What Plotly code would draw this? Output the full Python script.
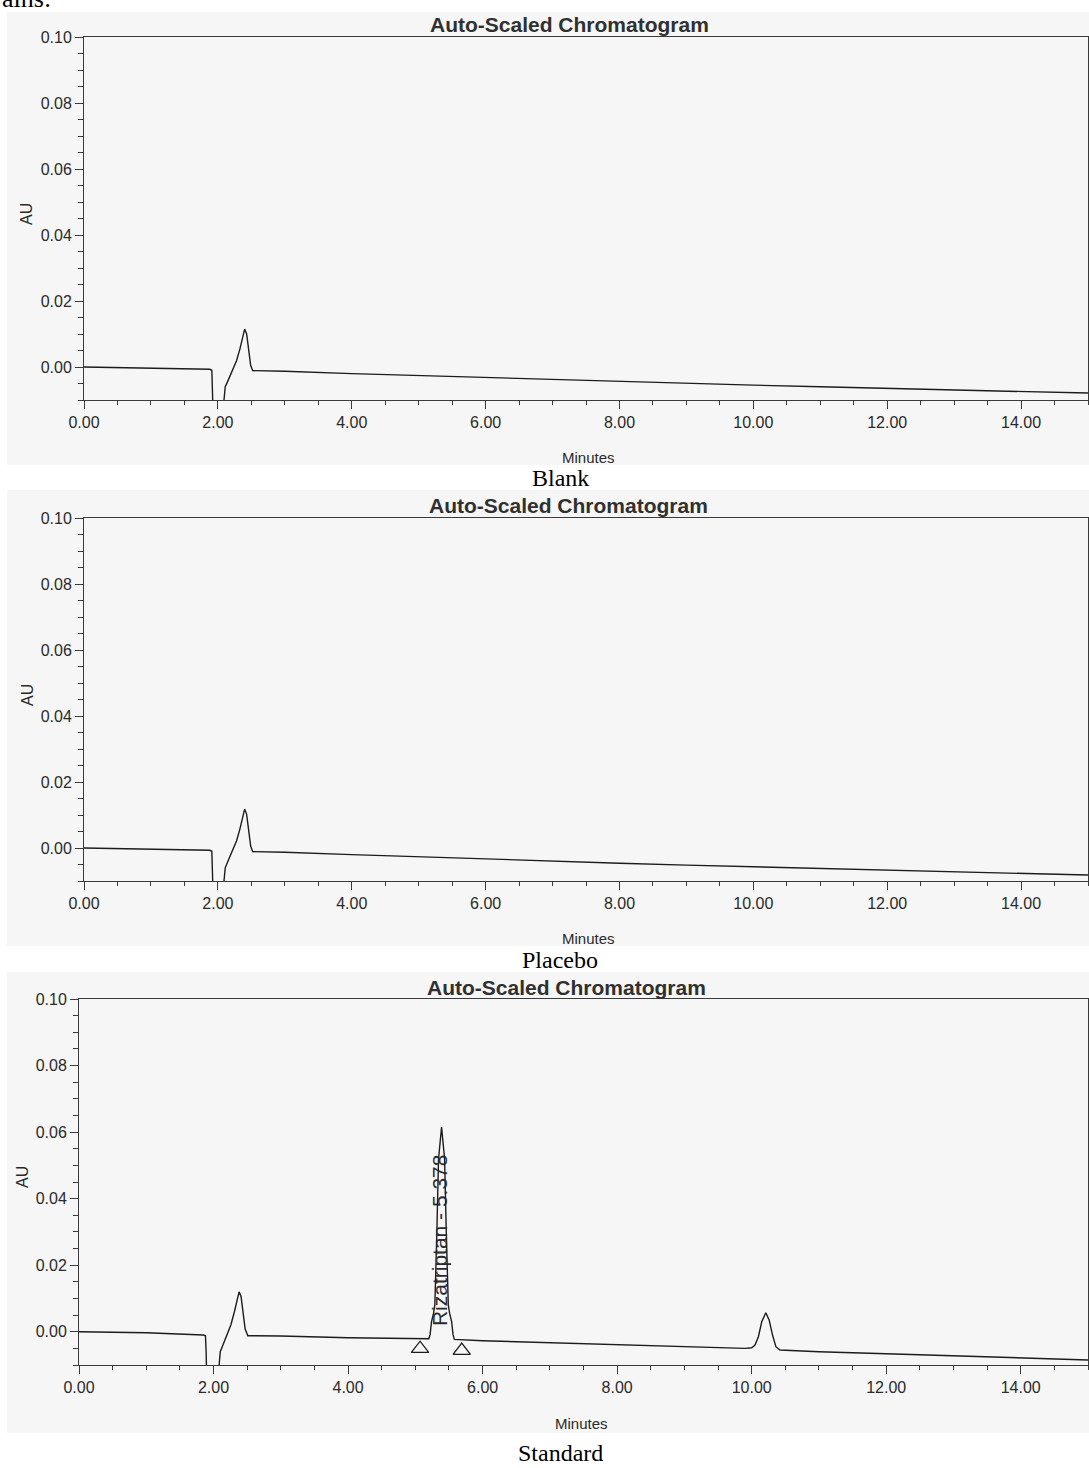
import plotly.graph_objects as go

# ---------------- data ----------------
blank_time = [0.00, 0.50, 1.00, 1.50, 1.88, 1.91, 1.92, 1.93, 2.00, 2.07, 2.09, 2.11, 2.15,
              2.22, 2.28, 2.33, 2.37, 2.40, 2.43, 2.46, 2.49, 2.52, 3.00, 4.00, 5.00, 6.00,
              7.00, 8.00, 9.00, 10.00, 11.00, 12.00, 13.00, 14.00, 15.00]
blank_au = [0.0000, -0.0002, -0.0003, -0.0005, -0.0007, -0.0010, -0.0060, -0.0150, -0.0300,
            -0.0150, -0.0100, -0.0060, -0.0042, -0.0010, 0.0020, 0.0055, 0.0095, 0.0115,
            0.0100, 0.0050, 0.0005, -0.0011, -0.0013, -0.0020, -0.0026, -0.0032, -0.0038,
            -0.0045, -0.0050, -0.0055, -0.0060, -0.0065, -0.0070, -0.0075, -0.0079]

placebo_time = [0.00, 0.50, 1.00, 1.50, 1.88, 1.91, 1.92, 1.93, 2.00, 2.07, 2.09, 2.11, 2.15,
                2.22, 2.28, 2.33, 2.37, 2.40, 2.43, 2.46, 2.49, 2.52, 3.00, 4.00, 5.00, 6.00,
                7.00, 8.00, 9.00, 10.00, 11.00, 12.00, 13.00, 14.00, 15.00]
placebo_au = [0.0000, -0.0002, -0.0003, -0.0005, -0.0007, -0.0010, -0.0060, -0.0150, -0.0300,
              -0.0150, -0.0100, -0.0060, -0.0040, -0.0008, 0.0022, 0.0058, 0.0098, 0.0118,
              0.0102, 0.0052, 0.0006, -0.0011, -0.0013, -0.0020, -0.0027, -0.0033, -0.0039,
              -0.0046, -0.0052, -0.0057, -0.0062, -0.0067, -0.0072, -0.0077, -0.0082]

standard_time = [0.00, 1.00, 1.85, 1.88, 1.89, 1.90, 2.00, 2.06, 2.08, 2.10, 2.14, 2.20, 2.26,
                 2.31, 2.35, 2.38, 2.41, 2.44, 2.47, 2.51, 3.00, 4.00, 5.00, 5.20, 5.22, 5.24,
                 5.27, 5.29, 5.32, 5.345, 5.39, 5.435, 5.46, 5.49, 5.51, 5.54, 5.56, 5.58,
                 6.00, 7.00, 8.00, 9.00, 9.90, 10.00, 10.05, 10.10, 10.15, 10.21, 10.26,
                 10.31, 10.36, 10.42, 11.00, 12.00, 13.00, 14.00, 15.00]
standard_au = [0.0000, -0.0003, -0.0010, -0.0012, -0.0060, -0.0150, -0.0300, -0.0150, -0.0100,
               -0.0060, -0.0040, -0.0010, 0.0022, 0.0060, 0.0100, 0.0120, 0.0105, 0.0055,
               0.0008, -0.0012, -0.0013, -0.0018, -0.0021, -0.0021, -0.0008, 0.0030, 0.0055,
               0.0080, 0.0300, 0.0520, 0.0615, 0.0520, 0.0300, 0.0080, 0.0055, 0.0030,
               -0.0008, -0.0023, -0.0027, -0.0033, -0.0040, -0.0046, -0.0050, -0.0048,
               -0.0040, -0.0015, 0.0030, 0.0057, 0.0035, -0.0010, -0.0045, -0.0055, -0.0060,
               -0.0066, -0.0072, -0.0078, -0.0085]

# peak integration markers (start / end) and label
marker_time = [5.07, 5.69]
marker_au = [-0.0051, -0.0057]
peak_label = "Rizatriptan - 5.378"
peak_label_time = 5.35
peak_label_au = 0.0275

panel_titles = ["Auto-Scaled Chromatogram"] * 3
captions = ["Blank", "Placebo", "Standard"]
x_tick_vals = [0, 2, 4, 6, 8, 10, 12, 14]
x_tick_text = ["0.00", "2.00", "4.00", "6.00", "8.00", "10.00", "12.00", "14.00"]
y_tick_vals = [0.00, 0.02, 0.04, 0.06, 0.08, 0.10]
y_tick_text = ["0.00", "0.02", "0.04", "0.06", "0.08", "0.10"]

# ---------------- layout helpers ----------------
W, H = 1089, 1468
def px_x(p): return p / W
def px_y(p): return 1 - p / H

LINE = "#1c1c1c"
AXC = "#3a3a3a"
SANS = "Arial, Liberation Sans, sans-serif"
SERIF = "Times New Roman, Liberation Serif, serif"

# panel geometry in pixels: (left, right, top, bottom)
panels = [(84, 1088, 37, 400), (84, 1088, 518, 881), (79, 1088, 999, 1365)]
title_pos = [(569, 24), (568, 505), (566, 987)]
minutes_pos = [(588, 457), (588, 938), (581, 1423)]
caption_pos = [(560, 478), (560, 960), (560, 1453)]
au_pos = [(27, 214), (27, 695), (22, 1177)]
scan_regions = [(7, 12, 1089, 465), (7, 490, 1089, 946), (7, 972, 1089, 1433)]

fig = go.Figure()
series = [(blank_time, blank_au), (placebo_time, placebo_au), (standard_time, standard_au)]
for i, (t, a) in enumerate(series):
    sfx = "" if i == 0 else str(i + 1)
    fig.add_trace(go.Scatter(x=t, y=a, mode="lines", xaxis="x" + sfx, yaxis="y" + sfx,
                             line=dict(color=LINE, width=1.4), showlegend=False,
                             hoverinfo="skip"))

fig.add_trace(go.Scatter(x=marker_time, y=marker_au, mode="markers", xaxis="x3", yaxis="y3",
                         marker=dict(symbol="triangle-up-open", size=15, color=LINE,
                                     line=dict(width=1.3, color=LINE)),
                         showlegend=False, hoverinfo="skip"))

layout = dict(width=W, height=H, autosize=False, margin=dict(l=0, r=0, t=0, b=0, pad=0),
              paper_bgcolor="white", plot_bgcolor="rgba(0,0,0,0)", showlegend=False)

annotations = []
shapes = []
for i, (l, r, t, b) in enumerate(panels):
    sfx = "" if i == 0 else str(i + 1)
    xa = dict(domain=[px_x(l), px_x(r)], range=[0, 15], anchor="y" + sfx, automargin=False,
              tickvals=x_tick_vals, ticktext=x_tick_text, ticks="outside", ticklen=8,
              tickcolor=AXC, tickwidth=1, showline=True, linecolor=AXC, linewidth=1,
              mirror=True, showgrid=False, zeroline=False,
              tickfont=dict(family=SANS, size=16, color="#2a2a2a"),
              minor=dict(dtick=0.5, tick0=0, ticks="outside", ticklen=4, tickcolor=AXC,
                         showgrid=False))
    ya = dict(domain=[px_y(b), px_y(t)], range=[-0.01, 0.10], anchor="x" + sfx, automargin=False,
              tickvals=y_tick_vals, ticktext=y_tick_text, ticks="outside", ticklen=8,
              tickcolor=AXC, tickwidth=1, showline=True, linecolor=AXC, linewidth=1,
              mirror=True, showgrid=False, zeroline=False,
              tickfont=dict(family=SANS, size=16, color="#2a2a2a"),
              minor=dict(dtick=0.005, tick0=0, ticks="outside", ticklen=5, tickcolor=AXC,
                         showgrid=False))
    layout["xaxis" + sfx] = xa
    layout["yaxis" + sfx] = ya

    tx, ty = title_pos[i]
    annotations.append(dict(text="<b>" + panel_titles[i] + "</b>", x=px_x(tx), y=px_y(ty),
                            xref="paper", yref="paper", showarrow=False,
                            xanchor="center", yanchor="middle",
                            font=dict(family=SANS, size=21, color="#303030")))
    mx, my = minutes_pos[i]
    annotations.append(dict(text="Minutes", x=px_x(mx), y=px_y(my), xref="paper",
                            yref="paper", showarrow=False, xanchor="center",
                            yanchor="middle", font=dict(family=SANS, size=15, color="#2a2a2a")))
    cx, cy = caption_pos[i]
    annotations.append(dict(text=captions[i], x=px_x(cx), y=px_y(cy), xref="paper",
                            yref="paper", showarrow=False, xanchor="center",
                            yanchor="middle", font=dict(family=SERIF, size=24, color="black")))
    ax_, ay_ = au_pos[i]
    annotations.append(dict(text="AU", x=px_x(ax_), y=px_y(ay_), xref="paper", yref="paper",
                            showarrow=False, xanchor="center", yanchor="middle",
                            textangle=-90, font=dict(family=SANS, size=16, color="#2a2a2a")))
    x0, y0, x1, y1 = scan_regions[i]
    shapes.append(dict(type="rect", xref="paper", yref="paper", x0=px_x(x0), x1=px_x(x1),
                       y0=px_y(y1), y1=px_y(y0), fillcolor="#f6f6f6",
                       line=dict(width=0), layer="below"))

annotations.append(dict(text=peak_label, x=peak_label_time, y=peak_label_au, xref="x3",
                        yref="y3", showarrow=False, textangle=-90, xanchor="center",
                        yanchor="middle", font=dict(family=SANS, size=21, color="#2a2a2a")))
annotations.append(dict(text="ains:", x=0, y=px_y(15), xref="paper", yref="paper",
                        showarrow=False, xanchor="left", yanchor="bottom",
                        font=dict(family=SERIF, size=26, color="black")))

layout["annotations"] = annotations
layout["shapes"] = shapes
fig.update_layout(**layout)
fig.write_html("out.html", config={"responsive": False, "displayModeBar": False},
               post_script="document.body.style.margin='0';"
                           "document.body.style.overflow='hidden';")
